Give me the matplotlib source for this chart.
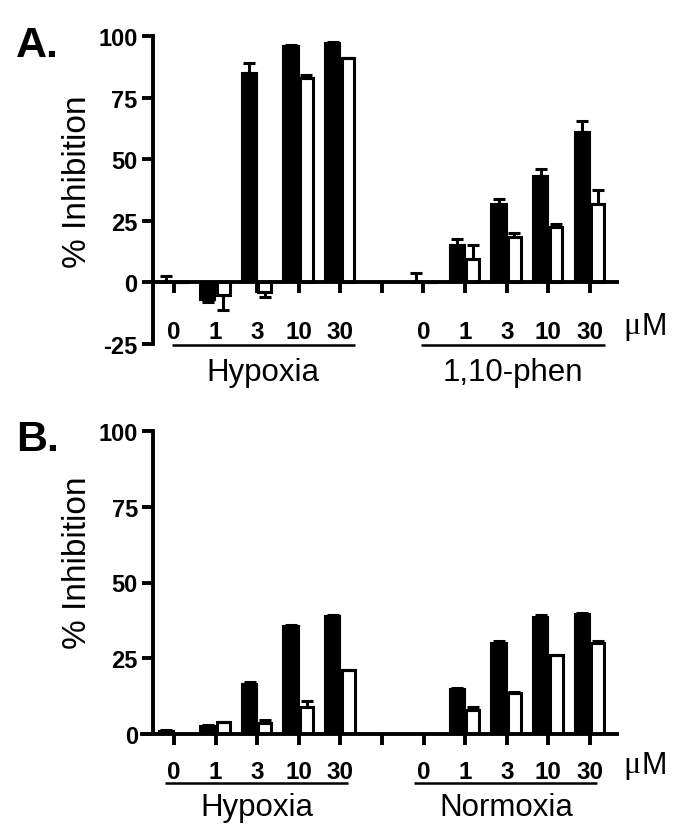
import matplotlib
matplotlib.use("Agg")
import matplotlib.pyplot as plt
import numpy as np

plt.rcParams['font.family'] = ['Liberation Sans', 'DejaVu Sans']
plt.rcParams['axes.unicode_minus'] = False

doses = ['0', '1', '3', '10', '30']
# bar positions: two groups of five, gap slot at 5
pos = [0, 1, 2, 3, 4, 6, 7, 8, 9, 10]

# panel A: Hypoxia then 1,10-phen
a_groups = ['Hypoxia', '1,10-phen']
a_black = [0, -7, 85, 96, 97, 0, 15, 32, 43, 61]
a_black_err = [2.5, 1, 4, 0.5, 0.5, 4, 2.5, 2, 3, 4.5]
a_white = [0, -5, -4, 83, 91, 0, 9.5, 18.5, 22.5, 32]
a_white_err = [0, 6, 2, 1, 0, 0, 5.5, 1.5, 1, 5.5]

# panel B: Hypoxia then Normoxia
b_groups = ['Hypoxia', 'Normoxia']
b_black = [1, 2.5, 16.5, 35.5, 39, 0, 15, 30, 38.5, 39.5]
b_black_err = [0.4, 0.6, 0.6, 0.4, 0.4, 0, 0.3, 0.6, 0.7, 0.4]
b_white = [0, 4, 3.5, 9, 21, 0, 8, 13.5, 26, 30]
b_white_err = [0, 0, 1, 2, 0, 0, 0.8, 0.3, 0, 0.6]

W, H = 678, 828
fig = plt.figure(figsize=(W / 100, H / 100), dpi=100)

w = 0.37
lw = 2.8


def one_sided(vals, errs):
    lo = [e if v < 0 else 0 for v, e in zip(vals, errs)]
    hi = [e if v >= 0 else 0 for v, e in zip(vals, errs)]
    return [lo, hi]


def panel(ax, black, black_err, white, white_err, groups, ylo, xlo, tpad, ly, uy, gy, ulx):
    xb = np.array(pos) - w / 2
    xw = np.array(pos) + w / 2
    ax.bar(xb, black, width=w, color='black', edgecolor='black', linewidth=1.5, zorder=2)
    ax.bar(xw, white, width=w - 0.06, color='white', edgecolor='black', linewidth=2.2, zorder=2)
    ax.errorbar(xb, black, yerr=one_sided(black, black_err), fmt='none', ecolor='black',
                elinewidth=2.2, capsize=4, capthick=2.2, zorder=3)
    ax.errorbar(xw, white, yerr=one_sided(white, white_err), fmt='none', ecolor='black',
                elinewidth=2.2, capsize=4, capthick=2.2, zorder=3)

    ax.set_xlim(xlo, 10.65)
    ax.set_ylim(ylo, 100)
    for s in ['top', 'right']:
        ax.spines[s].set_visible(False)
    ax.spines['bottom'].set_position(('data', 0))
    ax.spines['left'].set_position(('data', -0.5))
    ax.spines['left'].set_bounds(ylo, 100)
    ax.spines['bottom'].set_linewidth(lw)
    ax.spines['left'].set_linewidth(lw)
    ax.spines['bottom'].set_zorder(4)

    ax.set_yticks([t for t in [-25, 0, 25, 50, 75, 100] if t >= ylo])
    ax.tick_params(axis='y', direction='out', length=8, width=lw, labelsize=17, pad=3)
    for t in ax.get_yticklabels():
        t.set_fontweight('bold')

    ax.set_xticks(range(11))
    ax.set_xticklabels(doses + [''] + doses, fontsize=17.5, fontweight='bold')
    ax.tick_params(axis='x', direction='out', length=8, width=lw, pad=tpad)

    # serif mu like the original, sans M
    ax.text(10.8, ly, '\u03bc', fontsize=23, ha='left', va='center', clip_on=False,
            family='Liberation Serif')
    ax.text(11.23, ly, 'M', fontsize=22, ha='left', va='center', clip_on=False)
    for g, x0 in zip(groups, [ulx, ulx + 6]):
        ax.plot([x0, x0 + 4.4], [uy, uy], color='black',
                lw=1.8, clip_on=False, solid_capstyle='butt')
        ax.text(x0 + 2.2, gy, g, fontsize=22.5, ha='center', va='center', clip_on=False)

    ax.set_ylabel('% Inhibition', fontsize=24)


# panel A axes: y axis at px 153, x range -0.5..10.65 -> right at 617
axA = fig.add_axes([153 / W, 1 - 345 / H, 464 / W, 308 / H])
panel(axA, a_black, a_black_err, a_white, a_white_err, a_groups,
      -25, -0.5, 19, -17.5, -25.6, -36.5, -0.05)
axA.yaxis.set_label_coords(-0.13, 0.53)

axB = fig.add_axes([142 / W, 1 - 735 / H, 475 / W, 303 / H])
panel(axB, b_black, b_black_err, b_white, b_white_err, b_groups,
      0, -0.77, 11, -10.2, -16.2, -24, -0.22)
axB.yaxis.set_label_coords(-0.104, 0.57)

fig.text(16 / W, 1 - 46 / H, 'A.', fontsize=31, fontweight='bold', va='center', ha='left')
fig.text(16 / W, 1 - 440 / H, 'B.', fontsize=31, fontweight='bold', va='center', ha='left')

fig.savefig('out.png', dpi=100)
